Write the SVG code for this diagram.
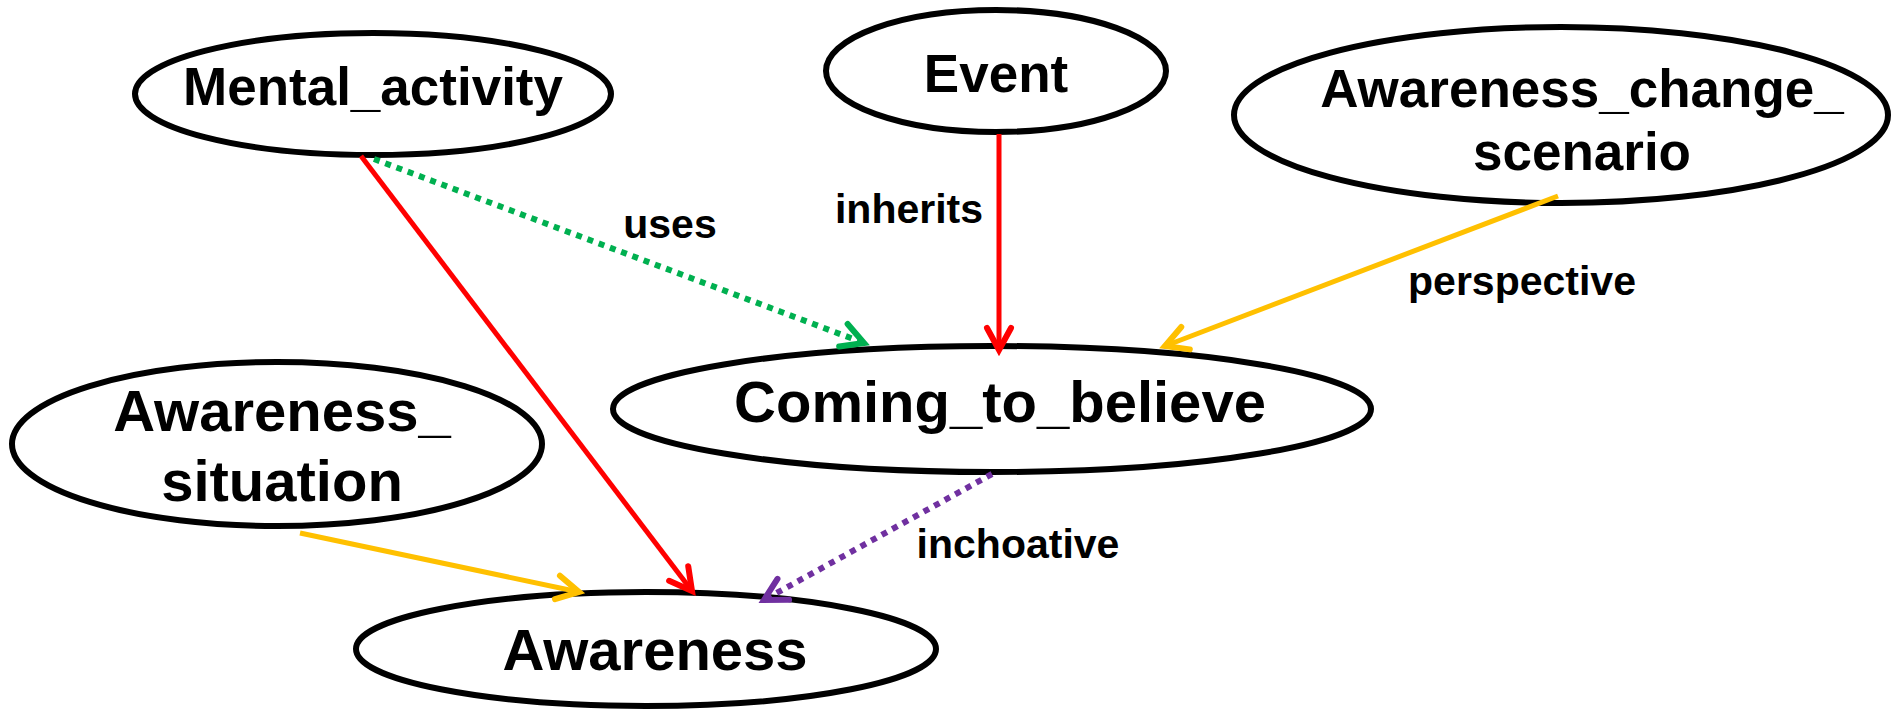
<svg xmlns="http://www.w3.org/2000/svg" width="1898" height="712" viewBox="0 0 1898 712">
  <style>
    .node ellipse { fill: #ffffff; stroke: #000000; stroke-width: 6; }
    .node text { font-family: "Liberation Sans", Arial, sans-serif; font-weight: bold; fill: #000000; text-anchor: middle; }
    .big { font-size: 58px; }
    .mid { font-size: 53px; }
    .edge { fill: none; stroke-width: 5; }
    .dotted { stroke-dasharray: 6 6; stroke-width: 6; }
    .label { font-family: "Liberation Sans", Arial, sans-serif; font-weight: bold; font-size: 41px; fill: #000000; text-anchor: middle; }
    .head { fill: none; stroke-width: 6; stroke-linecap: round; stroke-linejoin: miter; stroke-dasharray: none; }
  </style>
  <defs>
    <marker id="arrow-red" markerUnits="userSpaceOnUse" markerWidth="60" markerHeight="60" refX="0" refY="0" orient="auto" overflow="visible">
      <path class="head" d="M -22 -12 L 0 0 L -22 12" stroke="#FF0000"/>
    </marker>
    <marker id="arrow-green" markerUnits="userSpaceOnUse" markerWidth="60" markerHeight="60" refX="0" refY="0" orient="auto" overflow="visible">
      <path class="head" d="M -22 -12 L 0 0 L -22 12" stroke="#00B050"/>
    </marker>
    <marker id="arrow-gold" markerUnits="userSpaceOnUse" markerWidth="60" markerHeight="60" refX="0" refY="0" orient="auto" overflow="visible">
      <path class="head" d="M -22 -12 L 0 0 L -22 12" stroke="#FFC000"/>
    </marker>
    <marker id="arrow-purple" markerUnits="userSpaceOnUse" markerWidth="60" markerHeight="60" refX="0" refY="0" orient="auto" overflow="visible">
      <path class="head" d="M -22 -12 L 0 0 L -22 12" stroke="#7030A0"/>
    </marker>
  </defs>

  <rect x="0" y="0" width="1898" height="712" fill="#ffffff"/>

  <!-- frames -->
  <g id="node-mental-activity" class="node">
    <ellipse cx="373" cy="94" rx="238" ry="61"/>
    <text class="mid" x="373" y="105">Mental_activity</text>
  </g>
  <g id="node-event" class="node">
    <ellipse cx="996" cy="71" rx="170" ry="61"/>
    <text class="mid" x="996" y="92">Event</text>
  </g>
  <g id="node-awareness-change-scenario" class="node">
    <ellipse cx="1561" cy="115" rx="327" ry="88"/>
    <text class="mid" x="1582" y="107">Awareness_change_</text>
    <text class="mid" x="1582" y="170">scenario</text>
  </g>
  <g id="node-coming-to-believe" class="node">
    <ellipse cx="992" cy="409" rx="379" ry="63"/>
    <text class="big" x="1000" y="422">Coming_to_believe</text>
  </g>
  <g id="node-awareness-situation" class="node">
    <ellipse cx="277" cy="444" rx="265" ry="82"/>
    <text class="big" x="282" y="431">Awareness_</text>
    <text class="big" x="282" y="501">situation</text>
  </g>
  <g id="node-awareness" class="node">
    <ellipse cx="646" cy="649" rx="290" ry="57"/>
    <text class="big" x="655" y="670">Awareness</text>
  </g>

  <!-- relations -->
  <g id="connectors">
    <line class="edge" x1="361" y1="156" x2="692" y2="591" stroke="#FF0000" marker-end="url(#arrow-red)"/>
    <line class="edge dotted" x1="374" y1="159" x2="864" y2="343" stroke="#00B050" marker-end="url(#arrow-green)"/>
    <line class="edge" x1="999" y1="134" x2="999" y2="350" stroke="#FF0000" marker-end="url(#arrow-red)"/>
    <line class="edge" x1="1558" y1="196" x2="1165" y2="346" stroke="#FFC000" stroke-width="5.5" marker-end="url(#arrow-gold)"/>
    <line class="edge" x1="300" y1="533" x2="579" y2="592" stroke="#FFC000" stroke-width="5.5" marker-end="url(#arrow-gold)"/>
    <line class="edge dotted" x1="992" y1="474" x2="764" y2="600" stroke="#7030A0" marker-end="url(#arrow-purple)"/>
    <text class="label" x="670" y="238">uses</text>
    <text class="label" x="909" y="223">inherits</text>
    <text class="label" x="1522" y="295">perspective</text>
    <text class="label" x="1018" y="558">inchoative</text>
  </g>
</svg>
